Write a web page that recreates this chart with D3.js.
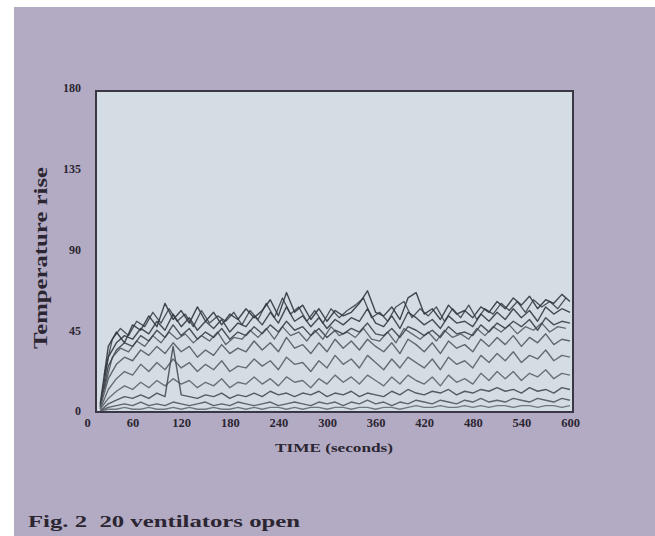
<!DOCTYPE html>
<html><head><meta charset="utf-8">
<script src="https://cdn.jsdelivr.net/npm/d3@7"></script>
<style>html,body{margin:0;padding:0;background:#fff;}svg{display:block;}</style>
</head><body>
<script>
// ---- data (temperature rise traces) ----
// main traces sampled every 10 s from t=20 to 600
const times = d3.range(20, 601, 10);
// interleaved traces sampled every 10 s from t=25 to 595
const timesOffset = d3.range(25, 596, 10);
const xTicks = [0, 60, 120, 180, 240, 300, 360, 420, 480, 540, 600];
const yTicks = [0, 45, 90, 135, 180];
const seriesA = [4,36,44,38,48,45,53,47,60,51, 56,49,58,50,55,48,54,51,57,52, 56,62,53,66,55,59,51,57,50,56, 53,55,60,67,55,53,58,51,63,66, 54,57,51,59,54,56,52,58,55,61, 57,63,59,64,57,62,60,65,61];
const seriesB = [3,30,38,42,40,46,43,50,45,54, 47,52,45,50,46,51,44,49,47,53, 48,55,49,58,50,53,47,52,46,51, 48,52,50,57,49,47,53,46,55,52, 48,51,46,53,49,50,47,54,50,55, 51,57,52,56,50,58,54,57,55];
const seriesC = [2,25,34,38,36,42,39,45,41,48, 42,46,40,44,41,46,40,44,42,47, 43,48,44,50,45,47,42,46,41,45, 43,46,44,49,43,42,46,41,47,45, 42,45,41,47,43,44,42,48,44,49, 46,50,47,51,45,52,48,50,49];
const seriesD = [2,18,26,30,28,34,31,36,32,38, 33,36,30,34,31,37,32,35,33,39, 34,38,33,41,35,37,32,38,33,40, 35,39,34,40,36,33,38,32,40,37, 33,38,32,39,35,37,33,40,36,41, 37,42,36,41,38,43,37,40,39];
const seriesE = [1,12,18,22,20,26,22,27,23,29, 24,27,22,26,23,28,22,25,24,29, 25,28,23,30,26,27,22,28,24,31, 26,29,24,31,27,23,29,24,30,27, 24,29,23,30,26,28,24,31,27,32, 28,33,27,31,29,34,28,31,30];
const seriesF = [1,7,11,14,12,16,13,17,14,18, 15,17,13,16,14,18,13,16,15,19, 15,18,14,19,16,17,13,18,15,20, 16,19,15,20,17,14,19,15,20,17, 15,19,14,20,16,18,15,21,17,22, 18,22,17,21,19,23,18,21,20];
const seriesG = [0,4,6,8,7,9,7,10,8,36, 9,8,7,9,8,10,7,9,8,10, 8,11,9,10,8,10,9,11,8,10, 9,11,8,10,9,8,11,9,12,10, 9,11,10,12,9,11,10,12,11,13, 11,12,10,13,11,12,10,13,12];
const seriesH = [0,2,3,4,3,5,3,4,3,5, 4,3,4,5,3,4,3,5,4,3, 4,5,3,4,5,4,3,5,4,5, 3,5,4,6,4,5,3,5,4,6, 5,4,6,5,4,6,5,7,5,6, 5,7,6,5,7,6,5,7,6];
const seriesI = [0,1,1,2,1,1,2,1,1,2, 1,2,1,1,2,1,1,2,1,2, 1,2,2,1,2,1,2,2,1,2, 2,1,2,2,1,2,2,1,2,3, 2,2,3,2,2,3,2,3,2,3, 3,2,3,3,2,3,3,2,3];
const seriesJ = [20,40,46,42,50,47,55,49,57,50, 54,47,56,49,53,50,55,48,56,51, 60,52,63,54,58,50,56,49,57,52, 56,59,63,52,55,50,58,61,52,57, 53,58,50,57,52,59,51,57,54,60, 56,61,55,62,58,61,57,63];
const seriesK = [12,30,35,33,39,36,42,38,44,40, 43,38,42,39,44,37,41,40,45,41, 46,40,47,42,44,39,45,40,47,42, 44,41,46,40,39,44,38,46,43,40, 44,39,45,41,43,40,46,42,47,44, 48,43,47,45,49,44,47,46];
const mainSeries = [seriesA, seriesB, seriesC, seriesD, seriesE, seriesF, seriesG, seriesH, seriesI];
const offsetSeries = [seriesJ, seriesK];
const yTitle = "Temperature rise";
const xTitle = "TIME (seconds)";
const caption = "Fig. 2\u00a0\u00a020 ventilators open";

// ---- drawing ----
const W = 655, H = 536;
const svg = d3.select("body").append("svg").attr("width", W).attr("height", H);
const font = "'Liberation Serif','Times New Roman',serif";
const ink = "#2b2632";

svg.append("rect").attr("width", W).attr("height", H).attr("fill", "#ffffff");
svg.append("rect").attr("x", 14).attr("y", 7).attr("width", W - 14).attr("height", H - 7).attr("fill", "#b3abc3");

const x = d3.scaleLinear().domain([0, 600]).range([84, 570]);
const y = d3.scaleLinear().domain([0, 180]).range([411, 88]);

const frame = {x0: 96, x1: 573, y0: 91, y1: 412};
svg.append("rect").attr("x", frame.x0).attr("y", frame.y0)
  .attr("width", frame.x1 - frame.x0).attr("height", frame.y1 - frame.y0)
  .attr("fill", "#d4dde4");

svg.append("clipPath").attr("id", "clip").append("rect")
  .attr("x", frame.x0).attr("y", frame.y0).attr("width", frame.x1 - frame.x0).attr("height", frame.y1 - frame.y0);
const g = svg.append("g").attr("clip-path", "url(#clip)");

const lineMain = d3.line().x((d, i) => x(times[i])).y(d => y(d));
const lineOff = d3.line().x((d, i) => x(timesOffset[i])).y(d => y(d));
const shadesMain = ["#30353c","#363b42","#3d4249","#535a61","#596067","#5e656b","#464c53","#50565d","#666c73"];
const shadesOff = ["#343940","#4c5259"];

g.selectAll("path.off").data(offsetSeries).join("path").attr("class", "off")
  .attr("d", lineOff).attr("fill", "none")
  .attr("stroke", (d, i) => shadesOff[i]).attr("stroke-width", 1.3).attr("stroke-opacity", 0.85)
  .attr("stroke-linejoin", "round");
g.selectAll("path.main").data(mainSeries).join("path").attr("class", "main")
  .attr("d", lineMain).attr("fill", "none")
  .attr("stroke", (d, i) => shadesMain[i]).attr("stroke-width", 1.4).attr("stroke-opacity", 0.9)
  .attr("stroke-linejoin", "round");

svg.append("rect").attr("x", frame.x0).attr("y", frame.y0)
  .attr("width", frame.x1 - frame.x0).attr("height", frame.y1 - frame.y0)
  .attr("fill", "none").attr("stroke", "#3a3644").attr("stroke-width", 2);

// axes (labels only)
const xAxis = svg.append("g").attr("transform", "translate(0,418)")
  .call(d3.axisBottom(x).tickValues(xTicks).tickSize(0).tickPadding(0));
xAxis.select(".domain").remove();
xAxis.selectAll("text").attr("font-family", font).attr("font-weight", "bold")
  .attr("font-size", 12.5).attr("fill", ink).attr("dy", "0.71em")
  .attr("dx", d => d === 0 ? 3 : 0);

const yAxis = svg.append("g").attr("transform", "translate(81,0)")
  .call(d3.axisLeft(y).tickValues(yTicks).tickSize(0).tickPadding(0));
yAxis.select(".domain").remove();
yAxis.selectAll("text").attr("font-family", font).attr("font-weight", "bold")
  .attr("font-size", 12).attr("fill", ink);

svg.append("text").attr("x", 334).attr("y", 452).attr("text-anchor", "middle")
  .attr("font-family", font).attr("font-weight", "bold").attr("font-size", 11.5).attr("fill", ink)
  .attr("textLength", 118).attr("lengthAdjust", "spacingAndGlyphs").text(xTitle);

svg.append("text").attr("transform", "translate(47,258) rotate(-90)").attr("text-anchor", "middle")
  .attr("font-family", font).attr("font-weight", "bold").attr("font-size", 19).attr("fill", ink)
  .attr("textLength", 182).attr("lengthAdjust", "spacingAndGlyphs").text(yTitle);

svg.append("text").attr("x", 28).attr("y", 527)
  .attr("font-family", font).attr("font-weight", "bold").attr("font-size", 17).attr("fill", ink)
  .attr("textLength", 272).attr("lengthAdjust", "spacingAndGlyphs").text(caption);
</script>
</body></html>
